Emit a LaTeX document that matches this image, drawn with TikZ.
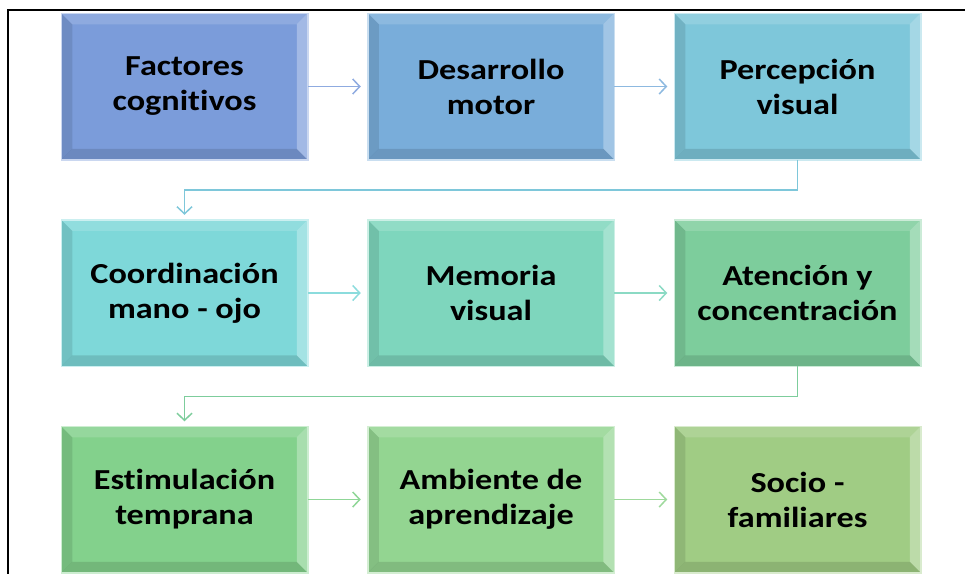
\documentclass[tikz,border=0pt]{standalone}
\usepackage{fontspec}
\setmainfont{Carlito}[FakeStretch=1.18, Ligatures=CommonOff]
\usetikzlibrary{positioning,arrows.meta}

\definecolor{boxa}{HTML}{7B9CDA}
\definecolor{boxb}{HTML}{79ADDA}
\definecolor{boxc}{HTML}{7EC7DA}
\definecolor{boxd}{HTML}{7ED8D9}
\definecolor{boxe}{HTML}{7ED6BD}
\definecolor{boxf}{HTML}{7DCD9C}
\definecolor{boxg}{HTML}{83D18C}
\definecolor{boxh}{HTML}{93D591}
\definecolor{boxi}{HTML}{A0CC84}

\tikzset{bevel/.style={path picture={
    \path (path picture bounding box.north west) coordinate (nw)
          (path picture bounding box.north east) coordinate (ne)
          (path picture bounding box.south west) coordinate (sw)
          (path picture bounding box.south east) coordinate (se);
    \fill[white, opacity=.15] (nw) -- (ne) -- ([shift={(-11pt,-11pt)}]ne) -- ([shift={(11pt,-11pt)}]nw) -- cycle;
    \fill[white, opacity=.3] (ne) -- (se) -- ([shift={(-11pt,11pt)}]se) -- ([shift={(-11pt,-11pt)}]ne) -- cycle;
    \fill[black, opacity=.12] (se) -- (sw) -- ([shift={(11pt,11pt)}]sw) -- ([shift={(-11pt,11pt)}]se) -- cycle;
    \fill[black, opacity=.1] (sw) -- (nw) -- ([shift={(11pt,-11pt)}]nw) -- ([shift={(11pt,11pt)}]sw) -- cycle;
}}}

\begin{document}
\begin{tikzpicture}[x=1pt, y=-1pt, node distance={60pt},
    >={Straight Barb[length=7pt,width=15pt]},
    main/.style = {draw=#1!40!white, fill=#1, line width=1.5pt, outer sep=0pt,
        minimum width=246.5pt, minimum height=146.5pt, align=center,
        font=\bfseries\fontsize{29}{35}\selectfont, bevel},
    link/.style = {draw=#1, line width=1.5pt, ->, shorten >=7pt}]
        \useasboundingbox (0,0) rectangle (965,574);
        \draw[line width=2pt] (965,9.5) -- (7.5,9.5) -- (7.5,574);

        \node[main=boxa] (1) at (184.5,86.5) {Factores\\cognitivos};
        \node[main=boxb] (2) [right=of 1] {Desarrollo\\motor};
        \node[main=boxc] (3) [right=of 2] {Percepción\\visual};
        \node[main=boxd] (4) [below=of 1] {Coordinación\\mano - ojo};
        \node[main=boxe] (5) [right=of 4] {Memoria\\visual};
        \node[main=boxf] (6) [right=of 5] {Atención y\\concentración};
        \node[main=boxg] (7) [below=of 4] {Estimulación\\temprana};
        \node[main=boxh] (8) [right=of 7] {Ambiente de\\aprendizaje};
        \node[main=boxi] (9) [right=of 8] {Socio -\\familiares};

        \draw[link=boxa!85!white] (1) -- (2);
        \draw[link=boxb!85!white] (2) -- (3);
        \draw[link=boxc, shorten >=5pt] (3.south) -- ++(0,30) -| (4.north);
        \draw[link=boxd!90!white] (4) -- (5);
        \draw[link=boxe!90!white] (5) -- (6);
        \draw[link=boxf, shorten >=5pt] (6.south) -- ++(0,30) -| (7.north);
        \draw[link=boxg!90!white] (7) -- (8);
        \draw[link=boxh!90!white] (8) -- (9);

    \end{tikzpicture}
\end{document}
